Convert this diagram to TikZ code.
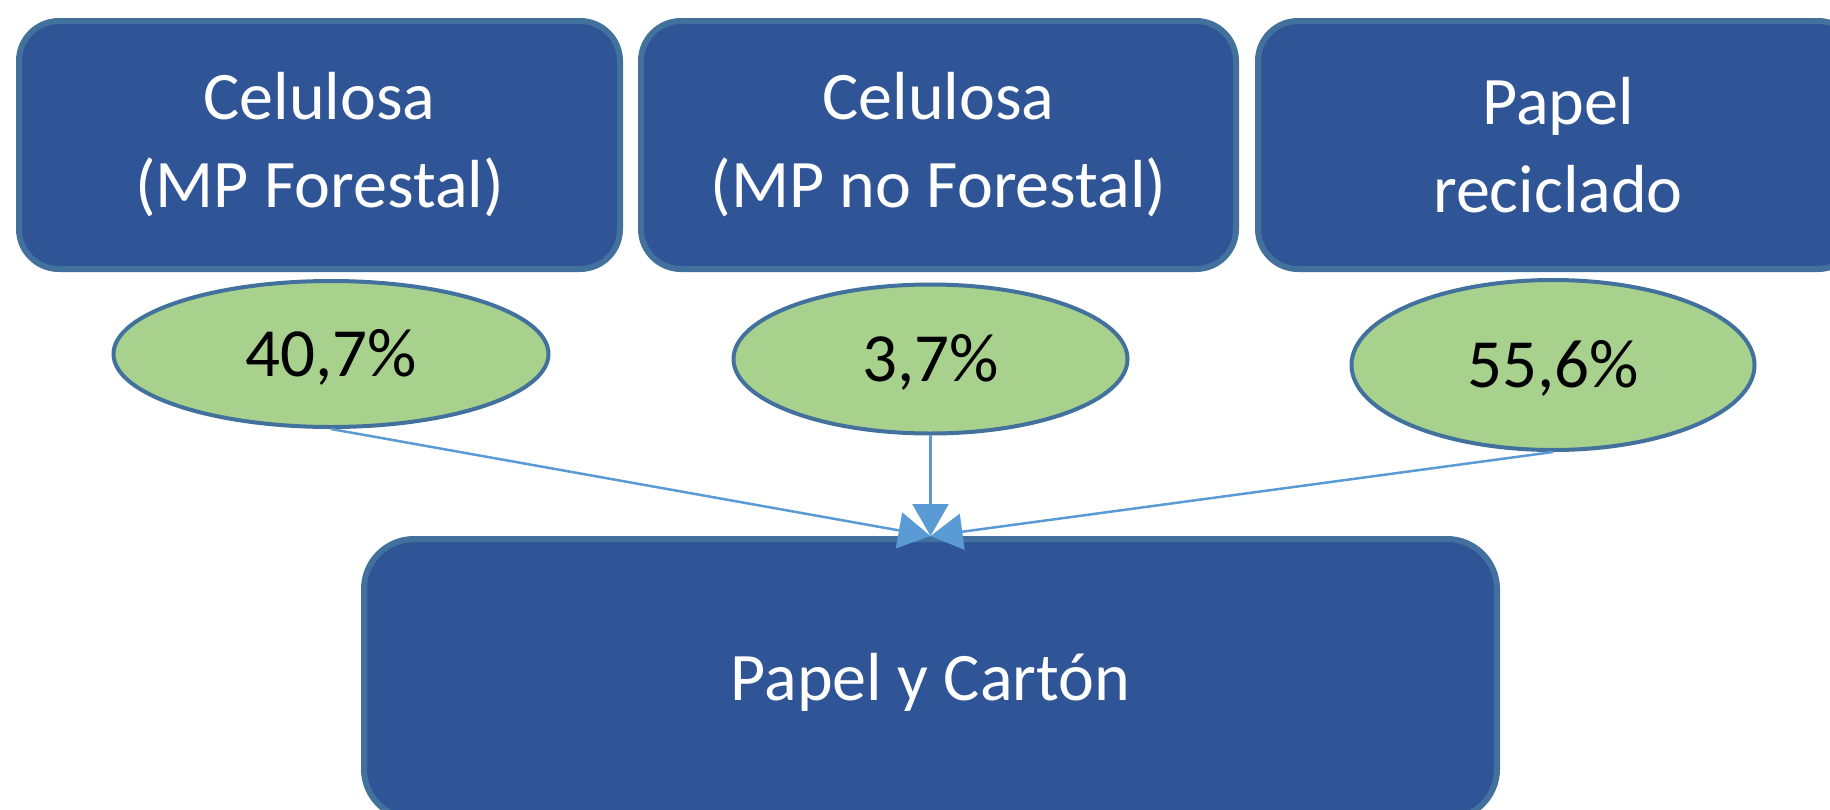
\documentclass[tikz,border=0pt]{standalone}
\usepackage{fontspec}
\setmainfont{Carlito}
\usetikzlibrary{shapes.geometric,arrows.meta}
\definecolor{boxfill}{HTML}{2F5597}
\definecolor{boxline}{HTML}{41719C}
\definecolor{ellfill}{HTML}{A9D18E}
\definecolor{arrcol}{HTML}{5B9BD5}
\begin{document}
\begin{tikzpicture}[x=1pt,y=-1pt,
  topbox/.style={draw=boxline, line width=6pt, fill=boxfill, rounded corners=40pt,
    text=white, align=center, inner sep=0pt, font=\fontsize{68}{88}\selectfont},
  pct/.style={ellipse, draw=boxline, line width=4pt, fill=ellfill, inner sep=0pt,
    font=\fontsize{69}{80}\selectfont, text height=44pt, text depth=0pt},
  arr/.style={draw=arrcol, line width=2.5pt, -{Triangle[length=32pt,width=36pt]}}]
\clip (0,0) rectangle (1830,809);
\node[topbox, minimum width=601pt, minimum height=248pt] (b1) at (319.5,145) {Celulosa\\(MP Forestal)};
\node[topbox, minimum width=595pt, minimum height=248pt] (b2) at (938.5,145) {Celulosa\\(MP no Forestal)};
\node[topbox, minimum width=600pt, minimum height=248pt] (b3) at (1558,145) {Papel\\reciclado};
\node[topbox, rounded corners=50pt, minimum width=1133pt, minimum height=280pt,
  text height=43pt, text depth=0pt] (bot) at (930.5,679) {Papel y Cartón};
\node[pct, minimum width=435pt, minimum height=146pt] (e1) at (331,354) {40,7\%};
\node[pct, minimum width=394pt, minimum height=149pt] (e2) at (930.5,359) {3,7\%};
\node[pct, minimum width=403pt, minimum height=170pt] (e3) at (1553,365) {55,6\%};
\draw[arr] (e1.south) -- (bot.north);
\draw[arr] (e2.south) -- (bot.north);
\draw[arr] (e3.south) -- (bot.north);
\end{tikzpicture}
\end{document}
